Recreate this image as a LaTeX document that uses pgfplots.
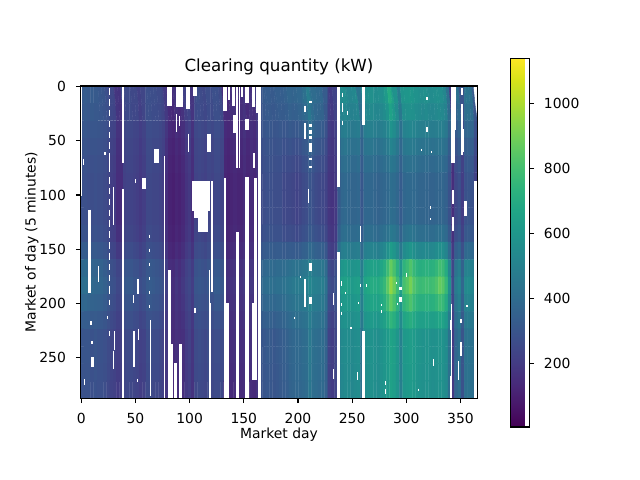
\documentclass[border=0pt]{standalone}
\usepackage{pgfplots}
\pgfplotsset{compat=1.18}
\usepackage{fontspec}
\setmainfont{DejaVu Sans}
\begin{document}
\fontsize{13.9bp}{16bp}\selectfont
\begin{tikzpicture}
\path[use as bounding box] (-80.7bp,-81.7bp) rectangle (559.3bp,398.3bp);
\begin{axis}[
  at={(0,0)}, anchor=south west,
  scale only axis, width=396.6bp, height=312.3bp,
  xmin=-0.5, xmax=365.5, ymin=-0.5, ymax=287.5,
  y dir=reverse,
  axis on top,
  xtick={0,50,...,350}, ytick={0,50,...,250},
  xtick pos=bottom, ytick pos=left,
  tick align=outside,
  major tick length=4.86bp,
  tick style={black, line width=1.1bp},
  axis line style={line width=1.1bp},
  /pgf/number format/assume math mode=true,
  /pgf/number format/1000 sep={},
  xticklabel style={anchor=base, inner sep=0pt, yshift=-20.3bp},
  yticklabel style={anchor=east, inner sep=0pt, xshift=-9.72bp},
  title={Clearing quantity (kW)},
  title style={at={(axis description cs:0.5,1.0266)}, anchor=base, inner sep=0pt, font=\fontsize{16.7bp}{20bp}\selectfont},
  xlabel={Market day},
  xlabel style={at={(axis description cs:0.5,-0.1278)}, anchor=base, inner sep=0pt},
  ylabel={Market of day (5 minutes)},
  ylabel style={at={(axis description cs:-0.1137,0.5)}, anchor=base, inner sep=0pt},
  colormap/viridis,
  point meta min=4, point meta max=1138,
  colorbar,
  colorbar style={
    at={(parent axis.south east)}, anchor=south west,
    xshift=25bp, yshift=-28.7bp,
    scale only axis, width=18.4bp, height=368.7bp,
    ytick={200,400,600,800,1000},
    ytick pos=right, yticklabel pos=right,
    yticklabel style={anchor=west, inner sep=0pt, xshift=9.72bp},
    tick align=outside, major tick length=4.86bp,
    tick style={black, line width=1.1bp},
    axis line style={line width=1.1bp},
    /pgf/number format/assume math mode=true,
    /pgf/number format/1000 sep={},
  },
  gap/.style={white, line cap=butt, forget plot, unbounded coords=jump},
]
\addplot[matrix plot*, mesh/rows=18, mesh/cols=122, mesh/ordering=y varies, point meta=explicit]
 table[header=false, row sep=\\, x expr={3*floor(\coordindex/18)+1}, y expr={16*mod(\coordindex,18)+7.5}, meta index=0] {
320\\314\\304\\294\\286\\280\\280\\280\\293\\332\\390\\410\\377\\333\\300\\300\\295\\290\\
330\\322\\310\\297\\288\\280\\280\\280\\294\\336\\399\\420\\384\\336\\300\\300\\295\\290\\
320\\312\\300\\287\\278\\270\\270\\270\\283\\322\\380\\400\\370\\330\\300\\300\\295\\290\\
330\\321\\306\\291\\279\\270\\270\\270\\282\\318\\372\\390\\360\\320\\290\\290\\285\\280\\
320\\314\\304\\294\\286\\280\\280\\280\\290\\320\\365\\380\\356\\324\\300\\300\\295\\290\\
320\\312\\300\\287\\278\\270\\270\\270\\281\\314\\363\\380\\353\\317\\290\\290\\285\\280\\
310\\304\\294\\284\\276\\270\\270\\270\\280\\310\\355\\370\\346\\314\\290\\290\\285\\280\\
300\\294\\284\\274\\266\\260\\260\\260\\269\\296\\336\\350\\329\\301\\280\\280\\275\\270\\
280\\274\\264\\254\\246\\240\\240\\240\\248\\272\\308\\320\\302\\278\\260\\260\\255\\250\\
250\\244\\234\\224\\216\\210\\210\\210\\218\\242\\278\\290\\275\\255\\240\\240\\235\\230\\
240\\234\\224\\214\\206\\200\\200\\200\\208\\232\\268\\280\\265\\245\\230\\230\\225\\220\\
180\\175\\168\\160\\155\\150\\145\\145\\160\\190\\235\\250\\238\\222\\210\\210\\205\\200\\
170\\167\\162\\157\\153\\150\\145\\145\\160\\190\\235\\250\\241\\229\\220\\220\\215\\210\\
250\\245\\238\\230\\225\\220\\220\\220\\229\\256\\296\\310\\292\\268\\250\\250\\245\\240\\
260\\255\\248\\240\\235\\230\\230\\230\\239\\266\\306\\320\\302\\278\\260\\260\\255\\250\\
260\\255\\248\\240\\235\\230\\230\\230\\239\\266\\306\\320\\302\\278\\260\\260\\255\\250\\
250\\245\\238\\230\\225\\220\\220\\220\\228\\252\\288\\300\\285\\265\\250\\250\\245\\240\\
250\\244\\234\\224\\216\\210\\210\\210\\219\\246\\286\\300\\282\\258\\240\\240\\235\\230\\
220\\215\\208\\200\\195\\190\\190\\190\\198\\222\\258\\270\\255\\235\\220\\220\\215\\210\\
240\\235\\228\\220\\215\\210\\210\\210\\218\\242\\278\\290\\272\\248\\230\\230\\225\\220\\
280\\275\\268\\260\\255\\250\\250\\250\\257\\278\\310\\320\\305\\285\\270\\270\\265\\260\\
280\\275\\268\\260\\255\\250\\250\\250\\258\\282\\318\\330\\312\\288\\270\\270\\265\\260\\
270\\265\\258\\250\\245\\240\\240\\240\\248\\272\\308\\320\\302\\278\\260\\260\\255\\250\\
270\\265\\258\\250\\245\\240\\240\\240\\247\\268\\300\\310\\295\\275\\260\\260\\255\\250\\
260\\255\\248\\240\\235\\230\\230\\230\\237\\258\\290\\300\\285\\265\\250\\250\\245\\240\\
240\\235\\228\\220\\215\\210\\210\\210\\217\\238\\270\\280\\265\\245\\230\\230\\225\\220\\
200\\192\\180\\167\\158\\150\\150\\150\\157\\178\\210\\220\\211\\199\\190\\190\\185\\180\\
150\\144\\134\\124\\116\\110\\110\\110\\115\\130\\152\\160\\157\\153\\150\\150\\145\\140\\
140\\134\\124\\114\\106\\100\\100\\100\\105\\120\\142\\150\\147\\143\\140\\140\\135\\130\\
170\\162\\150\\137\\128\\120\\120\\120\\126\\144\\171\\180\\174\\166\\160\\160\\155\\150\\
150\\144\\134\\124\\116\\110\\110\\110\\115\\130\\152\\160\\157\\153\\150\\150\\145\\140\\
170\\164\\154\\144\\136\\130\\130\\130\\136\\154\\181\\190\\181\\169\\160\\160\\155\\150\\
220\\212\\200\\187\\178\\170\\170\\170\\176\\194\\221\\230\\221\\209\\200\\200\\195\\190\\
240\\232\\220\\207\\198\\190\\190\\190\\196\\214\\241\\250\\241\\229\\220\\220\\215\\210\\
180\\175\\168\\160\\155\\150\\150\\150\\156\\174\\201\\210\\201\\189\\180\\180\\175\\170\\
260\\255\\248\\240\\235\\230\\230\\230\\237\\258\\290\\300\\288\\272\\260\\260\\255\\250\\
270\\265\\258\\250\\245\\240\\240\\240\\247\\268\\300\\310\\298\\282\\270\\270\\265\\260\\
260\\255\\248\\240\\235\\230\\230\\230\\237\\258\\290\\300\\288\\272\\260\\260\\255\\250\\
250\\245\\238\\230\\225\\220\\220\\220\\227\\248\\280\\290\\278\\262\\250\\250\\245\\240\\
270\\265\\258\\250\\245\\240\\240\\240\\247\\268\\300\\310\\298\\282\\270\\270\\265\\260\\
260\\255\\248\\240\\235\\230\\230\\230\\237\\258\\290\\300\\288\\272\\260\\260\\255\\250\\
280\\275\\268\\260\\255\\250\\250\\250\\258\\282\\318\\330\\312\\288\\270\\270\\265\\260\\
280\\275\\268\\260\\255\\250\\250\\250\\258\\282\\318\\330\\312\\288\\270\\270\\265\\260\\
260\\255\\248\\240\\235\\230\\230\\230\\238\\262\\298\\310\\295\\275\\260\\260\\255\\250\\
150\\145\\138\\130\\125\\120\\120\\120\\125\\140\\162\\170\\164\\156\\150\\150\\145\\140\\
140\\135\\128\\120\\115\\110\\110\\110\\115\\130\\152\\160\\154\\146\\140\\140\\135\\130\\
160\\154\\144\\134\\126\\120\\120\\120\\125\\140\\162\\170\\164\\156\\150\\150\\145\\140\\
170\\164\\154\\144\\136\\130\\130\\130\\135\\150\\172\\180\\174\\166\\160\\160\\155\\150\\
150\\145\\138\\130\\125\\120\\120\\120\\125\\140\\162\\170\\164\\156\\150\\150\\145\\140\\
160\\154\\144\\134\\126\\120\\120\\120\\125\\140\\162\\170\\164\\156\\150\\150\\145\\140\\
180\\174\\164\\154\\146\\140\\140\\140\\145\\160\\182\\190\\181\\169\\160\\160\\155\\150\\
150\\145\\138\\130\\125\\120\\120\\120\\124\\136\\154\\160\\154\\146\\140\\140\\135\\130\\
170\\165\\158\\150\\145\\140\\140\\140\\145\\160\\182\\190\\181\\169\\160\\160\\155\\150\\
160\\155\\148\\140\\135\\130\\130\\130\\135\\150\\172\\180\\171\\159\\150\\150\\145\\140\\
200\\194\\184\\174\\166\\160\\160\\160\\165\\180\\202\\210\\201\\189\\180\\180\\175\\170\\
300\\294\\284\\274\\266\\260\\260\\260\\271\\304\\354\\370\\349\\321\\300\\300\\295\\290\\
320\\312\\300\\287\\278\\270\\270\\270\\283\\322\\380\\400\\373\\337\\310\\310\\305\\300\\
330\\322\\310\\297\\288\\280\\280\\280\\293\\332\\390\\410\\383\\347\\320\\320\\315\\310\\
330\\322\\310\\297\\288\\280\\280\\280\\294\\336\\399\\420\\390\\350\\320\\320\\315\\310\\
320\\312\\300\\287\\278\\270\\270\\270\\284\\326\\389\\410\\380\\340\\310\\310\\305\\300\\
330\\321\\306\\291\\279\\270\\270\\270\\285\\330\\398\\420\\390\\350\\320\\320\\315\\310\\
340\\330\\312\\295\\281\\270\\270\\270\\285\\330\\398\\420\\393\\357\\330\\330\\325\\320\\
340\\327\\304\\282\\264\\250\\250\\250\\268\\322\\403\\430\\403\\367\\340\\340\\335\\330\\
350\\335\\310\\285\\265\\250\\250\\250\\269\\326\\412\\440\\413\\377\\350\\350\\345\\340\\
370\\352\\322\\292\\268\\250\\250\\250\\270\\330\\420\\450\\426\\394\\370\\370\\365\\360\\
360\\342\\312\\282\\258\\240\\240\\240\\262\\328\\427\\460\\436\\404\\380\\380\\375\\370\\
370\\349\\314\\279\\251\\230\\230\\230\\254\\326\\434\\470\\446\\414\\390\\390\\385\\380\\
380\\359\\324\\289\\261\\240\\240\\240\\263\\332\\436\\470\\446\\414\\390\\390\\385\\380\\
400\\379\\344\\309\\281\\260\\260\\260\\282\\348\\447\\480\\456\\424\\400\\400\\395\\390\\
420\\398\\360\\323\\293\\270\\270\\270\\292\\358\\457\\490\\466\\434\\410\\410\\405\\400\\
480\\453\\408\\363\\327\\300\\300\\300\\323\\392\\496\\530\\509\\481\\460\\460\\455\\450\\
430\\408\\370\\333\\303\\280\\280\\280\\302\\368\\467\\500\\476\\444\\420\\420\\415\\410\\
400\\379\\344\\309\\281\\260\\260\\260\\283\\352\\456\\490\\466\\434\\410\\410\\405\\400\\
390\\369\\334\\299\\271\\250\\250\\250\\273\\342\\446\\480\\456\\424\\400\\400\\395\\390\\
380\\360\\328\\296\\270\\250\\250\\250\\273\\342\\446\\480\\456\\424\\400\\400\\395\\390\\
330\\315\\290\\265\\245\\230\\230\\230\\250\\310\\400\\430\\409\\381\\360\\360\\355\\350\\
220\\214\\204\\194\\186\\180\\180\\180\\190\\220\\265\\280\\265\\245\\230\\230\\225\\220\\
200\\195\\188\\180\\175\\170\\170\\170\\179\\206\\246\\260\\245\\225\\210\\210\\205\\200\\
230\\224\\214\\204\\196\\190\\190\\190\\200\\230\\275\\290\\275\\255\\240\\240\\235\\230\\
450\\430\\398\\365\\340\\320\\320\\320\\344\\416\\524\\560\\539\\511\\490\\490\\485\\480\\
540\\516\\476\\436\\404\\380\\380\\380\\406\\484\\601\\640\\610\\570\\540\\540\\535\\530\\
550\\526\\486\\446\\414\\390\\390\\390\\416\\494\\611\\650\\620\\580\\550\\550\\545\\540\\
540\\516\\476\\436\\404\\380\\380\\380\\406\\484\\601\\640\\613\\577\\550\\550\\545\\540\\
520\\498\\460\\423\\393\\370\\370\\370\\395\\470\\583\\620\\596\\564\\540\\540\\535\\530\\
530\\506\\466\\426\\394\\370\\370\\370\\396\\474\\591\\630\\606\\574\\550\\550\\545\\540\\
540\\516\\476\\436\\404\\380\\380\\380\\406\\484\\601\\640\\616\\584\\560\\560\\555\\550\\
440\\420\\388\\356\\330\\310\\310\\310\\330\\390\\480\\510\\489\\461\\440\\440\\435\\430\\
550\\524\\482\\440\\406\\380\\380\\380\\408\\492\\618\\660\\630\\590\\560\\560\\555\\550\\
560\\533\\488\\443\\407\\380\\380\\380\\410\\500\\635\\680\\647\\603\\570\\570\\565\\560\\
570\\541\\494\\446\\409\\380\\380\\380\\412\\508\\652\\700\\664\\616\\580\\580\\575\\570\\
560\\531\\484\\436\\399\\370\\370\\370\\403\\502\\651\\700\\661\\609\\570\\570\\565\\560\\
550\\521\\474\\426\\389\\360\\360\\360\\393\\492\\641\\690\\651\\599\\560\\560\\555\\550\\
560\\531\\484\\436\\399\\370\\370\\370\\405\\510\\668\\720\\678\\622\\580\\580\\575\\570\\
580\\550\\500\\450\\410\\380\\380\\380\\418\\532\\703\\760\\712\\648\\600\\600\\595\\590\\
620\\586\\528\\471\\425\\390\\390\\390\\436\\574\\781\\850\\781\\689\\620\\620\\615\\610\\
700\\657\\584\\512\\454\\410\\410\\410\\464\\626\\869\\950\\863\\747\\660\\660\\655\\650\\
650\\613\\550\\488\\438\\400\\400\\400\\448\\592\\808\\880\\808\\712\\640\\640\\635\\630\\
580\\550\\500\\450\\410\\380\\380\\380\\420\\540\\720\\780\\726\\654\\600\\600\\595\\590\\
480\\458\\420\\383\\353\\330\\330\\330\\361\\454\\594\\640\\598\\542\\500\\500\\495\\490\\
590\\559\\506\\454\\412\\380\\380\\380\\422\\548\\737\\800\\743\\667\\610\\610\\605\\600\\
600\\569\\516\\464\\422\\390\\390\\390\\435\\570\\773\\840\\774\\686\\620\\620\\615\\610\\
610\\577\\522\\467\\423\\390\\390\\390\\441\\594\\824\\900\\819\\711\\630\\630\\625\\620\\
600\\569\\516\\464\\422\\390\\390\\390\\434\\566\\764\\830\\767\\683\\620\\620\\615\\610\\
580\\550\\500\\450\\410\\380\\380\\380\\421\\544\\729\\790\\733\\657\\600\\600\\595\\590\\
570\\540\\490\\440\\400\\370\\370\\370\\410\\530\\710\\770\\716\\644\\590\\590\\585\\580\\
560\\531\\484\\436\\399\\370\\370\\370\\411\\534\\719\\780\\720\\640\\580\\580\\575\\570\\
570\\540\\490\\440\\400\\370\\370\\370\\412\\538\\727\\790\\730\\650\\590\\590\\585\\580\\
560\\530\\480\\430\\390\\360\\360\\360\\402\\528\\717\\780\\720\\640\\580\\580\\575\\570\\
550\\521\\474\\426\\389\\360\\360\\360\\403\\532\\726\\790\\724\\636\\570\\570\\565\\560\\
560\\531\\484\\436\\399\\370\\370\\370\\415\\550\\753\\820\\748\\652\\580\\580\\575\\570\\
570\\540\\490\\440\\400\\370\\370\\370\\420\\570\\795\\870\\786\\674\\590\\590\\585\\580\\
560\\531\\484\\436\\399\\370\\370\\370\\417\\558\\770\\840\\762\\658\\580\\580\\575\\570\\
530\\503\\458\\413\\377\\350\\350\\350\\391\\514\\699\\760\\697\\613\\550\\550\\545\\540\\
420\\400\\368\\336\\310\\290\\290\\290\\318\\402\\528\\570\\528\\472\\430\\430\\425\\420\\
200\\192\\180\\167\\158\\150\\150\\150\\161\\194\\244\\260\\242\\218\\200\\200\\195\\190\\
380\\360\\328\\296\\270\\250\\250\\250\\272\\338\\437\\470\\443\\407\\380\\380\\375\\370\\
420\\399\\364\\329\\301\\280\\280\\280\\304\\376\\484\\520\\490\\450\\420\\420\\415\\410\\
300\\286\\264\\241\\224\\210\\210\\210\\227\\278\\355\\380\\356\\324\\300\\300\\295\\290\\
430\\409\\374\\339\\311\\290\\290\\290\\315\\390\\503\\540\\507\\463\\430\\430\\425\\420\\
440\\419\\384\\349\\321\\300\\300\\300\\325\\400\\513\\550\\517\\473\\440\\440\\435\\430\\
430\\409\\374\\339\\311\\290\\290\\290\\314\\386\\494\\530\\500\\460\\430\\430\\425\\420\\
320\\305\\280\\255\\235\\220\\220\\220\\236\\284\\356\\380\\359\\331\\310\\310\\305\\300\\
};
% one-day missing runs
\addplot[gap, line width=1.18bp] coordinates {
(0,-0.5)(0,100.5)(0,nan)
(2,66.5)(2,72.5)(2,nan)
(3,269.5)(3,275.5)(3,nan)
(9,216.5)(9,219.5)(9,nan)
(10,234.5)(10,237.5)(10,nan)
(16,165.5)(16,180.5)(16,nan)
(22,60.5)(22,63.5)(22,nan)
(24,211.5)(24,214.5)(24,nan)
(26,1.5)(26,7.5)(26,nan)(26,11.5)(26,17.5)(26,nan)(26,21.5)(26,27.5)(26,nan)
(26,31.5)(26,37.5)(26,nan)(26,41.5)(26,47.5)(26,nan)(26,51.5)(26,57.5)(26,nan)
(26,61.5)(26,78.5)(26,nan)(26,83.5)(26,89.5)(26,nan)(26,93.5)(26,99.5)(26,nan)
(26,103.5)(26,109.5)(26,nan)(26,113.5)(26,119.5)(26,nan)(26,123.5)(26,129.5)(26,nan)
(26,133.5)(26,139.5)(26,nan)(26,143.5)(26,149.5)(26,nan)(26,153.5)(26,159.5)(26,nan)
(26,163.5)(26,169.5)(26,nan)(26,173.5)(26,179.5)(26,nan)(26,183.5)(26,191.5)(26,nan)
(26,196.5)(26,201.5)(26,nan)(26,225.5)(26,230.5)(26,nan)
(30,92.5)(30,127.5)(30,nan)
(30,243.5)(30,260.5)(30,nan)
(31,225.5)(31,242.5)(31,nan)
(48,192.5)(48,199.5)(48,nan)
(53,223.5)(53,233.5)(53,nan)
(50,85.5)(50,88.5)(50,nan)
(52,269.5)(52,272.5)(52,nan)
(63,136.5)(63,139.5)(63,nan)(63,149.5)(63,152.5)(63,nan)(63,162.5)(63,165.5)(63,nan)
(63,175.5)(63,178.5)(63,nan)(63,188.5)(63,191.5)(63,nan)(63,201.5)(63,204.5)(63,nan)
(64,215.5)(64,285.5)(64,nan)
(77,64.5)(77,287.5)(77,nan)
(88,25.5)(88,41.5)(88,nan)
(91,27.5)(91,36.5)(91,nan)
(99,43.5)(99,60.5)(99,nan)
(118,169.5)(118,287.5)(118,nan)
(119,199.5)(119,287.5)(119,nan)
(105,204.5)(105,208.5)(105,nan)
(146,-0.5)(146,75.5)(146,nan)
(210,94.5)(210,107.5)(210,nan)
(197,212.5)(197,214.5)(197,nan)
(202,174.5)(202,176.5)(202,nan)
(233,190.5)(233,201.5)(233,nan)(233,260.5)(233,269.5)(233,nan)
(241,5.5)(241,9.5)(241,nan)(241,15.5)(241,23.5)(241,nan)(241,31.5)(241,35.5)(241,nan)
(246,22.5)(246,26.5)(246,nan)
(244,189.5)(244,191.5)(244,nan)
(240,179.5)(240,183.5)(240,nan)(240,199.5)(240,202.5)(240,nan)(240,207.5)(240,210.5)(240,nan)
(258,128.5)(258,143.5)(258,nan)(258,182.5)(258,184.5)(258,nan)
(255,263.5)(255,270.5)(255,nan)
(263,182.5)(263,184.5)(263,nan)
(256,198.5)(256,200.5)(256,nan)
(249,221.5)(249,223.5)(249,nan)
(277,200.5)(277,202.5)(277,nan)(277,206.5)(277,208.5)(277,nan)
(281,271.5)(281,275.5)(281,nan)(281,278.5)(281,283.5)(281,nan)
(291,180.5)(291,182.5)(291,nan)
(292,199.5)(292,201.5)(292,nan)
(300,171.5)(300,175.5)(300,nan)
(311,278.5)(311,280.5)(311,nan)
(319,9.5)(319,12.5)(319,nan)(319,37.5)(319,41.5)(319,nan)
(314,57.5)(314,59.5)(314,nan)
(323,59.5)(323,61.5)(323,nan)
(322,110.5)(322,112.5)(322,nan)(322,121.5)(322,123.5)(322,nan)
(325,251.5)(325,257.5)(325,nan)
(345,-0.5)(345,40.5)(345,nan)
(343,95.5)(343,108.5)(343,nan)(343,120.5)(343,133.5)(343,nan)
(342,200.5)(342,287.5)(342,nan)
(353,39.5)(353,60.5)(353,nan)
(356,201.5)(356,203.5)(356,nan)
(348,253.5)(348,270.5)(348,nan)
(341,215.5)(341,224.5)(341,nan)(341,266.5)(341,287.5)(341,nan)
};
% two-day missing runs
\addplot[gap, line width=2.27bp] coordinates {
(7.5,113.5)(7.5,190.5)(7.5,nan)
(10.5,249.5)(10.5,258.5)(10.5,nan)
(38.5,-0.5)(38.5,70.5)(38.5,nan)(38.5,94.5)(38.5,287.5)(38.5,nan)
(48.5,225.5)(48.5,258.5)(48.5,nan)
(52.5,177.5)(52.5,191.5)(52.5,nan)
(81.5,169.5)(81.5,287.5)(81.5,nan)
(83.5,237.5)(83.5,287.5)(83.5,nan)
(91.5,237.5)(91.5,287.5)(91.5,nan)
(120.5,87.5)(120.5,189.5)(120.5,nan)
(132.5,84.5)(132.5,287.5)(132.5,nan)
(136.5,-0.5)(136.5,12.5)(136.5,nan)
(140.5,-0.5)(140.5,17.5)(140.5,nan)
(141.5,26.5)(141.5,42.5)(141.5,nan)
(143.5,-0.5)(143.5,75.5)(143.5,nan)
(148.5,-0.5)(148.5,9.5)(148.5,nan)
(159.5,61.5)(159.5,75.5)(159.5,nan)
(162.5,-0.5)(162.5,24.5)(162.5,nan)
(164.5,-0.5)(164.5,287.5)(164.5,nan)
(206.5,17.5)(206.5,23.5)(206.5,nan)(206.5,33.5)(206.5,48.5)(206.5,nan)(206.5,177.5)(206.5,203.5)(206.5,nan)
(211.5,13.5)(211.5,15.5)(211.5,nan)(211.5,34.5)(211.5,37.5)(211.5,nan)(211.5,40.5)(211.5,43.5)(211.5,nan)
(211.5,45.5)(211.5,48.5)(211.5,nan)(211.5,52.5)(211.5,60.5)(211.5,nan)(211.5,65.5)(211.5,67.5)(211.5,nan)
(211.5,73.5)(211.5,75.5)(211.5,nan)(211.5,162.5)(211.5,170.5)(211.5,nan)(211.5,194.5)(211.5,200.5)(211.5,nan)
(237.5,-0.5)(237.5,92.5)(237.5,nan)(237.5,152.5)(237.5,287.5)(237.5,nan)
(260.5,-0.5)(260.5,35.5)(260.5,nan)(260.5,225.5)(260.5,287.5)(260.5,nan)
(294.5,184.5)(294.5,187.5)(294.5,nan)(294.5,194.5)(294.5,198.5)(294.5,nan)
(351.5,1.5)(351.5,7.5)(351.5,nan)(351.5,16.5)(351.5,63.5)(351.5,nan)
(354.5,105.5)(354.5,119.5)(354.5,nan)
(350.5,214.5)(350.5,218.5)(350.5,nan)(350.5,235.5)(350.5,248.5)(350.5,nan)
};
% three-day missing runs
\addplot[gap, line width=3.35bp] coordinates {
(58,84.5)(58,94.5)(58,nan)
(87,254.5)(87,287.5)(87,nan)
(105,-0.5)(105,8.5)(105,nan)
(106,114.5)(106,121.5)(106,nan)
(118,43.5)(118,60.5)(118,nan)
(135,199.5)(135,287.5)(135,nan)
(144,134.5)(144,287.5)(144,nan)
(153,-0.5)(153,15.5)(153,nan)(153,29.5)(153,40.5)(153,nan)(153,83.5)(153,287.5)(153,nan)
(159,-0.5)(159,18.5)(159,nan)
(161,84.5)(161,200.5)(161,nan)
(343,-0.5)(343,70.5)(343,nan)
(364,87.5)(364,287.5)(364,nan)
};
% four-day and longer missing runs
\addplot[gap, line width=4.43bp] coordinates {
(69.5,57.5)(69.5,70.5)(69.5,nan)
(81.5,-0.5)(81.5,17.5)(81.5,nan)
(98.5,-0.5)(98.5,20.5)(98.5,nan)
(132.5,-0.5)(132.5,22.5)(132.5,nan)
};
\addplot[gap, line width=5.52bp] coordinates {(160,199.5)(160,270.5)};
\addplot[gap, line width=6.6bp] coordinates {(90.5,-0.5)(90.5,18.5)};
\addplot[gap, line width=9.85bp] coordinates {(112,114.5)(112,134.5)};
\addplot[gap, line width=17.44bp] coordinates {(110.5,87.5)(110.5,114.5)};
\end{axis}
\end{tikzpicture}
\end{document}
